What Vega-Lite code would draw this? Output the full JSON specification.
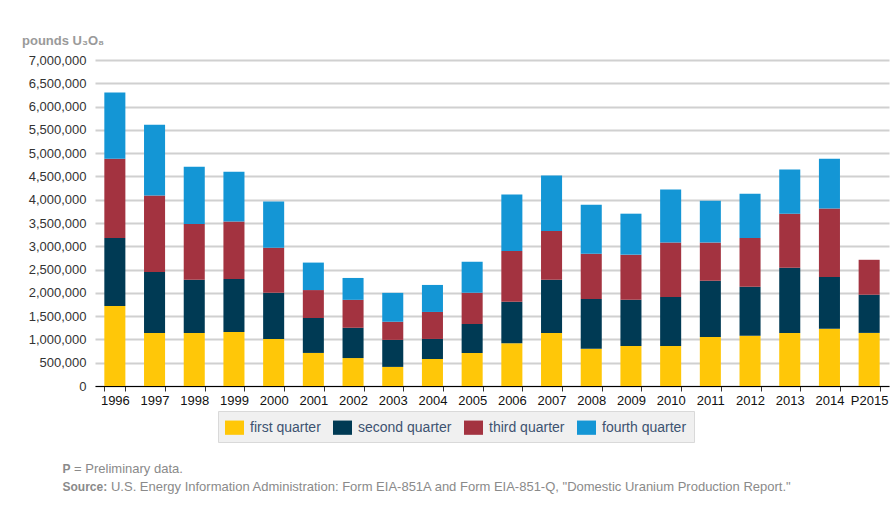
{
  "$schema": "https://vega.github.io/schema/vega-lite/v6.json",
  "autosize": {"type": "none"},
  "width": 794,
  "height": 326,
  "padding": {"left": 95, "top": 60, "right": 5, "bottom": 122},
  "background": "white",
  "title": {
    "text": "pounds U₃O₈",
    "orient": "top",
    "anchor": "start",
    "frame": "group",
    "dx": -73,
    "offset": 6,
    "fontSize": 13,
    "fontWeight": "bold",
    "color": "#9a9a9a",
    "font": "Liberation Sans"
  },
  "data": {
    "values": [
      {"year": "1996", "quarter": "first quarter", "q": 1, "value": 1720000},
      {"year": "1996", "quarter": "second quarter", "q": 2, "value": 1460000},
      {"year": "1996", "quarter": "third quarter", "q": 3, "value": 1700000},
      {"year": "1996", "quarter": "fourth quarter", "q": 4, "value": 1420000},
      {"year": "1997", "quarter": "first quarter", "q": 1, "value": 1140000},
      {"year": "1997", "quarter": "second quarter", "q": 2, "value": 1310000},
      {"year": "1997", "quarter": "third quarter", "q": 3, "value": 1640000},
      {"year": "1997", "quarter": "fourth quarter", "q": 4, "value": 1520000},
      {"year": "1998", "quarter": "first quarter", "q": 1, "value": 1140000},
      {"year": "1998", "quarter": "second quarter", "q": 2, "value": 1140000},
      {"year": "1998", "quarter": "third quarter", "q": 3, "value": 1200000},
      {"year": "1998", "quarter": "fourth quarter", "q": 4, "value": 1230000},
      {"year": "1999", "quarter": "first quarter", "q": 1, "value": 1160000},
      {"year": "1999", "quarter": "second quarter", "q": 2, "value": 1140000},
      {"year": "1999", "quarter": "third quarter", "q": 3, "value": 1230000},
      {"year": "1999", "quarter": "fourth quarter", "q": 4, "value": 1070000},
      {"year": "2000", "quarter": "first quarter", "q": 1, "value": 1010000},
      {"year": "2000", "quarter": "second quarter", "q": 2, "value": 990000},
      {"year": "2000", "quarter": "third quarter", "q": 3, "value": 970000},
      {"year": "2000", "quarter": "fourth quarter", "q": 4, "value": 990000},
      {"year": "2001", "quarter": "first quarter", "q": 1, "value": 710000},
      {"year": "2001", "quarter": "second quarter", "q": 2, "value": 750000},
      {"year": "2001", "quarter": "third quarter", "q": 3, "value": 600000},
      {"year": "2001", "quarter": "fourth quarter", "q": 4, "value": 590000},
      {"year": "2002", "quarter": "first quarter", "q": 1, "value": 600000},
      {"year": "2002", "quarter": "second quarter", "q": 2, "value": 650000},
      {"year": "2002", "quarter": "third quarter", "q": 3, "value": 600000},
      {"year": "2002", "quarter": "fourth quarter", "q": 4, "value": 470000},
      {"year": "2003", "quarter": "first quarter", "q": 1, "value": 410000},
      {"year": "2003", "quarter": "second quarter", "q": 2, "value": 580000},
      {"year": "2003", "quarter": "third quarter", "q": 3, "value": 390000},
      {"year": "2003", "quarter": "fourth quarter", "q": 4, "value": 620000},
      {"year": "2004", "quarter": "first quarter", "q": 1, "value": 580000},
      {"year": "2004", "quarter": "second quarter", "q": 2, "value": 430000},
      {"year": "2004", "quarter": "third quarter", "q": 3, "value": 580000},
      {"year": "2004", "quarter": "fourth quarter", "q": 4, "value": 580000},
      {"year": "2005", "quarter": "first quarter", "q": 1, "value": 710000},
      {"year": "2005", "quarter": "second quarter", "q": 2, "value": 620000},
      {"year": "2005", "quarter": "third quarter", "q": 3, "value": 670000},
      {"year": "2005", "quarter": "fourth quarter", "q": 4, "value": 670000},
      {"year": "2006", "quarter": "first quarter", "q": 1, "value": 920000},
      {"year": "2006", "quarter": "second quarter", "q": 2, "value": 890000},
      {"year": "2006", "quarter": "third quarter", "q": 3, "value": 1090000},
      {"year": "2006", "quarter": "fourth quarter", "q": 4, "value": 1210000},
      {"year": "2007", "quarter": "first quarter", "q": 1, "value": 1140000},
      {"year": "2007", "quarter": "second quarter", "q": 2, "value": 1140000},
      {"year": "2007", "quarter": "third quarter", "q": 3, "value": 1050000},
      {"year": "2007", "quarter": "fourth quarter", "q": 4, "value": 1190000},
      {"year": "2008", "quarter": "first quarter", "q": 1, "value": 800000},
      {"year": "2008", "quarter": "second quarter", "q": 2, "value": 1070000},
      {"year": "2008", "quarter": "third quarter", "q": 3, "value": 970000},
      {"year": "2008", "quarter": "fourth quarter", "q": 4, "value": 1050000},
      {"year": "2009", "quarter": "first quarter", "q": 1, "value": 860000},
      {"year": "2009", "quarter": "second quarter", "q": 2, "value": 990000},
      {"year": "2009", "quarter": "third quarter", "q": 3, "value": 970000},
      {"year": "2009", "quarter": "fourth quarter", "q": 4, "value": 880000},
      {"year": "2010", "quarter": "first quarter", "q": 1, "value": 860000},
      {"year": "2010", "quarter": "second quarter", "q": 2, "value": 1050000},
      {"year": "2010", "quarter": "third quarter", "q": 3, "value": 1170000},
      {"year": "2010", "quarter": "fourth quarter", "q": 4, "value": 1140000},
      {"year": "2011", "quarter": "first quarter", "q": 1, "value": 1050000},
      {"year": "2011", "quarter": "second quarter", "q": 2, "value": 1210000},
      {"year": "2011", "quarter": "third quarter", "q": 3, "value": 820000},
      {"year": "2011", "quarter": "fourth quarter", "q": 4, "value": 900000},
      {"year": "2012", "quarter": "first quarter", "q": 1, "value": 1080000},
      {"year": "2012", "quarter": "second quarter", "q": 2, "value": 1050000},
      {"year": "2012", "quarter": "third quarter", "q": 3, "value": 1050000},
      {"year": "2012", "quarter": "fourth quarter", "q": 4, "value": 950000},
      {"year": "2013", "quarter": "first quarter", "q": 1, "value": 1140000},
      {"year": "2013", "quarter": "second quarter", "q": 2, "value": 1400000},
      {"year": "2013", "quarter": "third quarter", "q": 3, "value": 1160000},
      {"year": "2013", "quarter": "fourth quarter", "q": 4, "value": 950000},
      {"year": "2014", "quarter": "first quarter", "q": 1, "value": 1230000},
      {"year": "2014", "quarter": "second quarter", "q": 2, "value": 1110000},
      {"year": "2014", "quarter": "third quarter", "q": 3, "value": 1470000},
      {"year": "2014", "quarter": "fourth quarter", "q": 4, "value": 1070000},
      {"year": "P2015", "quarter": "first quarter", "q": 1, "value": 1140000},
      {"year": "P2015", "quarter": "second quarter", "q": 2, "value": 820000},
      {"year": "P2015", "quarter": "third quarter", "q": 3, "value": 750000}
    ]
  },
  "mark": {"type": "bar"},
  "encoding": {
    "x": {
      "field": "year",
      "type": "nominal",
      "sort": null,
      "scale": {"paddingInner": 0.47, "paddingOuter": 0.235},
      "axis": {
        "title": ["P", "Source:"],
        "titleFontWeight": "bold",
        "titleFontSize": 12,
        "titleColor": "#8a8a8a",
        "titleFont": "Liberation Sans",
        "titleAnchor": "start",
        "titleAlign": "left",
        "titleBaseline": "top",
        "titleX": -33,
        "titleY": 77,
        "titleLineHeight": 18,
        "labelAngle": 0,
        "labelFontSize": 13,
        "labelColor": "#111111",
        "labelPadding": 3,
        "domainColor": "#000000",
        "domainWidth": 1,
        "tickColor": "#333333",
        "tickSize": 5,
        "tickBand": "extent",
        "grid": false
      }
    },
    "y": {
      "field": "value",
      "type": "quantitative",
      "stack": "zero",
      "scale": {"domain": [0, 7000000], "nice": false},
      "axis": {
        "values": [0, 500000, 1000000, 1500000, 2000000, 2500000, 3000000, 3500000, 4000000, 4500000, 5000000, 5500000, 6000000, 6500000, 7000000],
        "format": ",d",
        "domain": false,
        "ticks": false,
        "labelFontSize": 13,
        "labelColor": "#333333",
        "labelPadding": 9,
        "gridColor": "#d0d0d0",
        "gridWidth": 2,
        "title": ["\u200b\u00a0= Preliminary data.", "\u200b\u2003\u2003\u2007\u2007U.S. Energy Information Administration: Form EIA-851A and Form EIA-851-Q, \"Domestic Uranium Production Report.\""],
        "titleFontWeight": "normal",
        "titleFontSize": 13,
        "titleColor": "#8a8a8a",
        "titleFont": "Liberation Sans",
        "titleAngle": 0,
        "titleAlign": "left",
        "titleBaseline": "top",
        "titleX": -25,
        "titleY": 402,
        "titleLineHeight": 18
      }
    },
    "color": {
      "field": "quarter",
      "type": "nominal",
      "scale": {
        "domain": ["first quarter", "second quarter", "third quarter", "fourth quarter"],
        "range": ["#FFC708", "#003A54", "#A33340", "#1496D5"]
      },
      "legend": {
        "title": null,
        "orient": "none",
        "direction": "horizontal",
        "legendX": 123,
        "legendY": 351,
        "fillColor": "#f0f0f0",
        "strokeColor": "#d9d9d9",
        "padding": 7,
        "symbolType": "M-1,-0.75L1,-0.75L1,0.75L-1,0.75Z",
        "symbolSize": 361,
        "symbolStrokeWidth": 0,
        "symbolOpacity": 1,
        "labelFontSize": 14,
        "labelColor": "#3d5370",
        "labelFont": "Liberation Sans",
        "labelOffset": 6,
        "columnPadding": 12
      }
    },
    "order": {"field": "q", "type": "quantitative"}
  },
  "config": {
    "font": "Liberation Sans",
    "view": {"stroke": null},
    "axis": {"labelFont": "Liberation Sans"}
  }
}
